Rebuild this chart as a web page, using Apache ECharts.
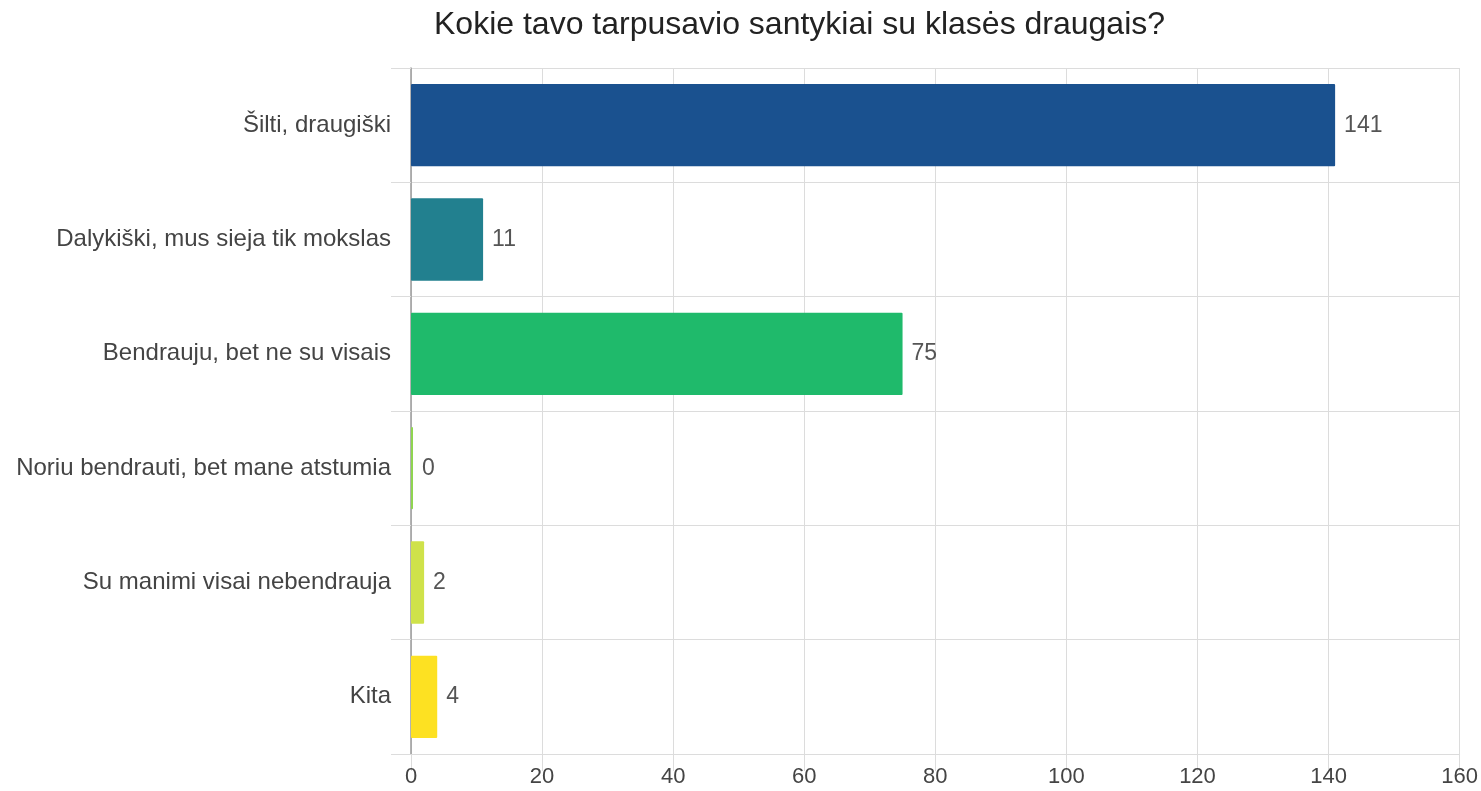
<!DOCTYPE html>
<html>
<head>
<meta charset="utf-8">
<script src="https://cdn.jsdelivr.net/npm/echarts@6/dist/echarts.min.js"></script>
<style>
    html, body { margin: 0; padding: 0; background: #fff; }
    #chart { width: 1481px; height: 791px; }
</style>
</head>
<body>
<div id="chart"></div>
<script>
// duomenys
var categories = [
    'Šilti, draugiški',
    'Dalykiški, mus sieja tik mokslas',
    'Bendrauju, bet ne su visais',
    'Noriu bendrauti, bet mane atstumia',
    'Su manimi visai nebendrauja',
    'Kita',
]
var counts = [141, 11, 75, 0, 2, 4]
var barColors = ['#1a518f', '#22808f', '#1fba6b', '#8fd550', '#cfe24a', '#fde122']
var xTicks = [0, 20, 40, 60, 80, 100, 120, 140, 160]

var myChart = echarts.init(document.getElementById('chart'))
var font = "'Liberation Sans', Arial, sans-serif"

var option = {
    animation: false,
    textStyle: { fontFamily: font },
    title: {
        text: 'Kokie tavo tarpusavio santykiai su klasės draugais?',
        left: 429,
        top: 4,
        textStyle: {
            fontFamily: font,
            fontWeight: 'normal',
            fontSize: 32,
            color: '#222',
        },
    },
    grid: {
        left: 411,
        right: 21,
        top: 68,
        bottom: 37,
        containLabel: false,
    },
    xAxis: {
        type: 'value',
        min: xTicks[0],
        max: xTicks[xTicks.length - 1],
        interval: 20,
        axisLine: { show: true, lineStyle: { color: '#dcdcdc', width: 1 } },
        axisTick: { show: true, length: 17, lineStyle: { color: '#dcdcdc' } },
        axisLabel: {
            margin: 12,
            fontSize: 22,
            color: '#444',
            fontFamily: font,
        },
        splitLine: { show: true, lineStyle: { color: '#dcdcdc', width: 1 } },
    },
    yAxis: {
        type: 'category',
        inverse: true,
        data: categories,
        axisLine: { show: true, lineStyle: { color: '#9a9a9a', width: 1.5 } },
        axisTick: { show: true, length: 20, alignWithLabel: false, lineStyle: { color: '#dcdcdc' } },
        axisLabel: {
            margin: 20,
            fontSize: 24,
            color: '#444',
            fontFamily: font,
        },
        splitLine: { show: true, lineStyle: { color: '#dcdcdc', width: 1 } },
    },
    series: [
        {
            type: 'bar',
            barCategoryGap: '28%',
            barMinHeight: 2,
            data: counts.map(function(v, i) {
                return { value: v, itemStyle: { color: barColors[i] } }
            }),
            itemStyle: { borderRadius: 1 },
            label: {
                show: true,
                position: 'right',
                distance: 9,
                fontSize: 23,
                color: '#555',
                fontFamily: font,
            },
        },
    ],
}

myChart.setOption(option)
</script>
</body>
</html>
